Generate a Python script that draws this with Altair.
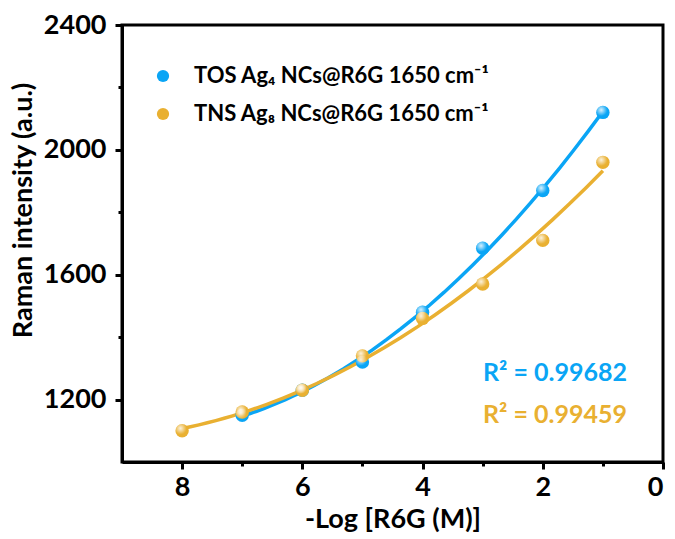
import altair as alt
import pandas as pd

# ---- data ----
x_tos = [7, 6, 5, 4, 3, 2, 1]
y_tos = [1150, 1230, 1320, 1480, 1685, 1870, 2120]
x_tns = [8, 7, 6, 5, 4, 3, 2, 1]
y_tns = [1100, 1160, 1230, 1340, 1460, 1570, 1710, 1960]

series_names = ["TOS Ag₄ NCs@R6G 1650 cm⁻¹", "TNS Ag₈ NCs@R6G 1650 cm⁻¹"]
series_colors = ["#0AA5F5", "#E9B031"]

r2_labels = ["R² = 0.99682", "R² = 0.99459"]
r2_x = [0.6, 0.6]
r2_y = [1285, 1152]

x_ticks = [0, 1, 2, 3, 4, 5, 6, 7, 8]
y_ticks = [1200, 1400, 1600, 1800, 2000, 2200, 2400]

FONT = "Lato"

df = pd.DataFrame(
    {
        "x": x_tos + x_tns,
        "y": y_tos + y_tns,
        "series": [series_names[0]] * len(x_tos) + [series_names[1]] * len(x_tns),
    }
)
df_r2 = pd.DataFrame({"label": r2_labels, "x": r2_x, "y": r2_y, "c": series_colors})

xscale = alt.Scale(domain=[0, 9], reverse=True, nice=False, zero=False)
yscale = alt.Scale(domain=[1000, 2400], nice=False, zero=False)

x_axis = alt.Axis(
    values=x_ticks,
    format="d",
    labelExpr="datum.value % 2 == 0 ? datum.label : ''",
    tickSize={"condition": {"test": "datum.value % 2 == 1", "value": 4}, "value": 7},
    labelPadding=5,
    titlePadding=6,
    title="-Log [R6G (M)]",
)
y_axis = alt.Axis(
    values=y_ticks,
    format="d",
    labelExpr="datum.value % 400 == 0 ? datum.label : ''",
    tickSize={"condition": {"test": "datum.value % 400 != 0", "value": 4}, "value": 7},
    labelPadding=9,
    titlePadding=6,
    titleY=185,
    title="Raman intensity (a.u.)",
)

X = alt.X("x:Q", scale=xscale, axis=x_axis)
Y = alt.Y("y:Q", scale=yscale, axis=y_axis)

legend = alt.Legend(
    title=None,
    orient="none",
    legendX=30,
    legendY=40,
    symbolType="circle",
    symbolSize=150,
    symbolStrokeWidth=0,
    symbolOpacity=1,
    labelFont=FONT,
    labelFontSize=22,
    labelFontWeight="bold",
    labelColor="black",
    labelOffset=20,
    rowPadding=16,
    labelLimit=400,
)
cscale = alt.Scale(domain=series_names, range=series_colors)

lines = (
    alt.Chart(df)
    .transform_regression("x", "y", groupby=["series"], method="poly", order=2)
    .mark_line(strokeWidth=3.5)
    .encode(x=X, y=Y, color=alt.Color("series:N", scale=cscale, legend=legend))
)

points = (
    alt.Chart(df)
    .mark_circle(size=180, opacity=1)
    .encode(x=X, y=Y, color=alt.Color("series:N", scale=cscale, legend=legend))
)

highlight = (
    alt.Chart(df)
    .mark_point(
        filled=True,
        size=180,
        opacity=1,
        strokeWidth=0,
        fill=alt.RadialGradient(
            gradient="radial",
            stops=[
                alt.GradientStop(color="rgba(255,255,255,0.85)", offset=0),
                alt.GradientStop(color="rgba(255,255,255,0)", offset=1),
            ],
            x1=0.38, y1=0.32, r1=0, x2=0.38, y2=0.32, r2=0.45,
        ),
    )
    .encode(x=X, y=Y)
)

r2_text = (
    alt.Chart(df_r2)
    .mark_text(align="right", baseline="middle", font=FONT, fontSize=25, fontWeight="bold")
    .encode(x=X, y=Y, text="label:N", color=alt.Color("c:N", scale=None))
)

chart = (
    alt.layer(lines, points, highlight, r2_text)
    .properties(
        width=541,
        height=437,
        autosize=alt.AutoSizeParams(type="none"),
        padding={"left": 122, "top": 25, "right": 12, "bottom": 77},
        background="white",
    )
    .configure_view(stroke="black", strokeWidth=3)
    .configure_axis(
        grid=False,
        domainColor="black",
        domainWidth=3,
        tickColor="black",
        tickWidth=3,
        labelFont=FONT,
        labelFontSize=27,
        labelFontWeight="bold",
        labelColor="black",
        titleFont=FONT,
        titleFontSize=27,
        titleFontWeight="bold",
        titleColor="black",
    )
)

chart.save("out.html", embed_options={"renderer": "svg", "actions": False})
